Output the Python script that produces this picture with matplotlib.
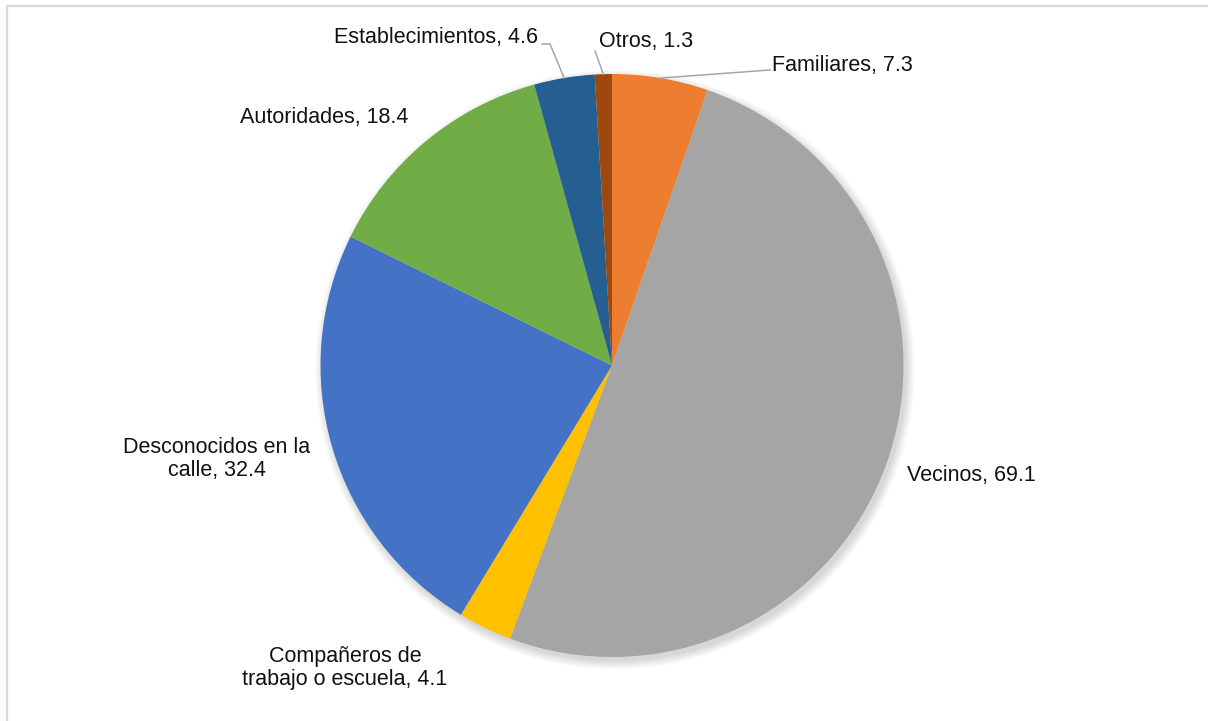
import numpy as np
import matplotlib.pyplot as plt
from matplotlib.patches import Circle
from matplotlib.lines import Line2D

# slices, clockwise from the top
labels = ["Familiares", "Vecinos", "Compañeros de\ntrabajo o escuela", "Desconocidos en la\ncalle",
          "Autoridades", "Establecimientos", "Otros"]
values = [7.3, 69.1, 4.1, 32.4, 18.4, 4.6, 1.3]
colors = ["#ED7D31", "#A5A5A5", "#FFC000", "#4472C4", "#70AD47", "#255E91", "#9E480E"]

W, H = 1208, 721
cx, cy, R = 612, 365.5, 291.5   # pie centre / radius in pixels


def px(x, y):
    # pixel position -> data units of the pie axes
    return (x - cx) / R, (cy - y) / R


plt.rcParams['font.family'] = ['Liberation Sans', 'DejaVu Sans']

fig = plt.figure(figsize=(W / 100, H / 100), dpi=100, facecolor='white')
ax = fig.add_axes([(cx - R) / W, (H - cy - R) / H, 2 * R / W, 2 * R / H])

# soft shadow under the pie
for k in range(8):
    ax.add_patch(Circle((0.010, -0.014), 1.0 + 0.004 * k, color='black',
                        alpha=0.018, lw=0, zorder=0, clip_on=False))

wedges, _ = ax.pie(values, colors=colors, startangle=90, counterclock=False,
                   radius=1, wedgeprops=dict(linewidth=0, zorder=2))
ax.set_xlim(-1, 1)
ax.set_ylim(-1, 1)
ax.set_aspect('equal')
ax.axis('off')

# label placement (pixels): x, y, ha
lab_pos = [
    (772, 65, 'left'),
    (907, 475, 'left'),
    (345, 668, 'center'),
    (217, 459, 'center'),
    (408, 118, 'right'),
    (538, 37, 'right'),
    (599, 41, 'left'),
]
# leader line elbows (pixels) for the small top slices
leaders = {0: [(770, 70)], 5: [(550, 44), (542, 44)], 6: [(595, 51)]}

total = sum(values)
cum = 0
for i, (lab, v) in enumerate(zip(labels, values)):
    mid = 90 - (cum + v / 2) / total * 360
    cum += v
    x, y, ha = lab_pos[i]
    tx, ty = px(x, y)
    ax.text(tx, ty, f"{lab}, {v}", ha=ha, va='center', fontsize=15.5,
            color='#111111', linespacing=1.15, multialignment='center')
    if i in leaders:
        ex, ey = np.cos(np.radians(mid)), np.sin(np.radians(mid))
        pts = [(ex, ey)] + [px(a, b) for a, b in leaders[i]]
        ax.plot([p[0] for p in pts], [p[1] for p in pts], color='#A6A6A6',
                lw=1.1, zorder=3, clip_on=False)

# chart frame (only top and left edges visible in the crop)
fig.add_artist(Line2D([7 / W, 1], [1 - 6 / H, 1 - 6 / H], color='#D9D9D9', lw=1.6))
fig.add_artist(Line2D([7 / W, 7 / W], [0, 1 - 6 / H], color='#D9D9D9', lw=1.6))

fig.savefig('out.png', dpi=100, facecolor='white')
